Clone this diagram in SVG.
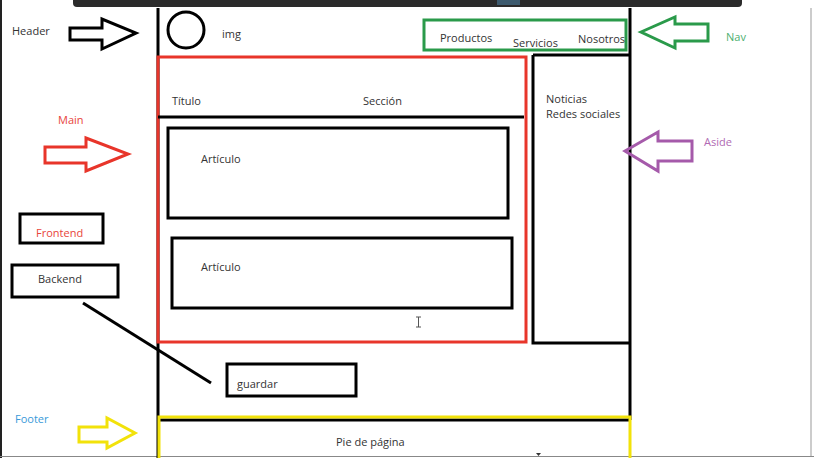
<svg xmlns="http://www.w3.org/2000/svg" width="814" height="458" viewBox="0 0 814 458">
  <style>
    text { font-family: "Open Sans", "Noto Sans", "Liberation Sans", sans-serif; font-size: 11px; fill: #333; }
    .blk { fill: none; stroke: #000; stroke-width: 3; }
    .red { fill: none; stroke: #e8352a; stroke-width: 3; }
    .grn { fill: none; stroke: #2a9a4a; stroke-width: 3; }
    .yel { fill: none; stroke: #f2e20a; stroke-width: 3; }
    .pur { fill: none; stroke: #a55aaa; stroke-width: 3; }
    .lbl-red { fill: #e8453a; }
    .lbl-grn { fill: #4caf70; }
    .lbl-pur { fill: #b06ab3; }
    .lbl-blu { fill: #3a9ad9; }
  </style>
  <rect width="814" height="458" fill="#fff"/>

  <!-- window chrome -->
  <path d="M73 0 H742 V3 Q742 7 738 7 H77 Q73 7 73 3 Z" fill="#2b2b2b"/>
  <rect x="497" y="0" width="23" height="5" fill="#3d5a6e"/>
  <line x1="1" y1="0" x2="1" y2="458" stroke="#222" stroke-width="2"/>
  <line x1="811" y1="8" x2="811" y2="456" stroke="#999" stroke-width="1"/>
  <line x1="0" y1="456.5" x2="814" y2="456.5" stroke="#888" stroke-width="1"/>

  <!-- page frame -->
  <g id="frame">
    <line class="blk" x1="158" y1="8" x2="158" y2="458"/>
    <line class="blk" x1="630" y1="8" x2="630" y2="420"/>
  </g>

  <g id="header">
    <circle class="blk" cx="186" cy="30" r="18"/>
    <text x="222" y="38">img</text>
  </g>

  <g id="nav">
    <rect class="grn" x="424" y="20" width="202" height="30"/>
    <text x="440" y="42">Productos</text>
    <text x="513" y="47">Servicios</text>
    <text x="578" y="43">Nosotros</text>
  </g>

  <g id="section">
    <rect class="red" x="158" y="57" width="368" height="285"/>
    <line class="blk" x1="158" y1="117" x2="524" y2="117"/>
    <text x="172" y="105">Título</text>
    <text x="363" y="105">Sección</text>
  </g>

  <g id="article-1">
    <rect class="blk" x="168" y="128" width="340" height="90"/>
    <text x="201" y="163">Artículo</text>
  </g>

  <g id="article-2">
    <rect class="blk" x="172" y="238" width="340" height="70"/>
    <text x="201" y="271">Artículo</text>
  </g>

  <g id="aside">
    <path class="blk" d="M533 55 H630 M533 55 V343 H630"/>
    <text x="546" y="103">Noticias</text>
    <text x="546" y="118">Redes sociales</text>
  </g>

  <g id="guardar">
    <rect class="blk" x="227" y="364" width="129" height="32"/>
    <text x="237" y="388">guardar</text>
  </g>

  <g id="footer">
    <line class="blk" x1="160" y1="420" x2="630" y2="420"/>
    <path class="yel" d="M159 458 V417 H630 V458"/>
    <text x="336" y="446">Pie de página</text>
  </g>

  <g id="frontend">
    <rect class="blk" x="20" y="214" width="83" height="29"/>
    <text class="lbl-red" x="36" y="237">Frontend</text>
  </g>

  <g id="backend">
    <rect class="blk" x="12" y="265" width="106" height="32"/>
    <text x="38" y="283">Backend</text>
  </g>

  <!-- pointer labels -->
  <g id="labels">
    <text x="12" y="35">Header</text>
    <text class="lbl-red" x="58" y="124">Main</text>
    <text class="lbl-grn" x="726" y="41">Nav</text>
    <text class="lbl-pur" x="704" y="146">Aside</text>
    <text class="lbl-blu" x="15" y="423">Footer</text>
  </g>

  <!-- connectors -->
  <g id="connectors">
    <polygon class="blk" points="70,28 102,28 102,19 136,33 102,49 102,40 70,40"/>
    <polygon class="red" points="45,147 86,147 86,138 128,154 86,171 86,163 45,163"/>
    <polygon class="grn" points="641,32 675,17 675,24 708,24 708,41 675,41 675,48"/>
    <polygon class="pur" points="625,151 658,132 658,141 692,141 692,161 658,161 658,171"/>
    <polygon class="yel" points="79,427 107,427 107,418 135,433 107,448 107,442 79,442"/>
    <line x1="83" y1="303" x2="211" y2="383" stroke="#000" stroke-width="3"/>
  </g>

  <!-- text cursor -->
  <g id="cursor" stroke="#555" stroke-width="1" fill="none">
    <path d="M416 317 H421 M418.5 317 V327 M416 327 H421"/>
  </g>
  <path d="M536 453 H541 L538.5 456 Z" fill="#333"/>
</svg>
